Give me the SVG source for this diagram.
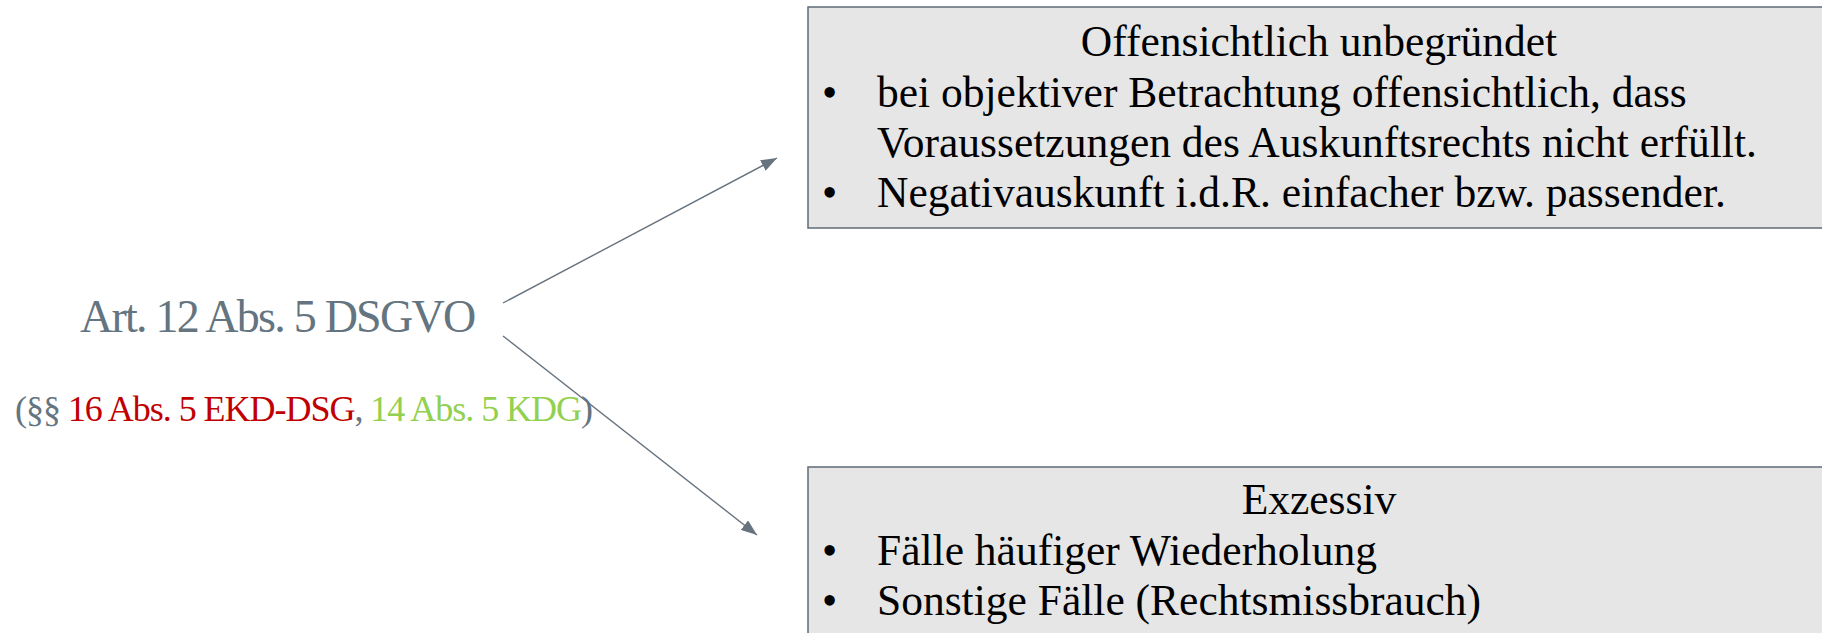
<svg xmlns="http://www.w3.org/2000/svg" width="1822" height="633" viewBox="0 0 1822 633">
<style>
.box{fill:#E7E6E6;stroke:#5F6B75;stroke-width:1.5}
.bt{font-family:"Liberation Serif","Times New Roman",serif;font-size:43.5px;fill:#000}
.ctr{text-anchor:middle}
.lt{font-family:"Liberation Serif","Times New Roman",serif;fill:#647480}
.conn{stroke:#67737E;stroke-width:1.4;fill:none;marker-end:url(#ah)}
</style>
<defs>
<marker id="ah" markerUnits="userSpaceOnUse" markerWidth="16" markerHeight="12" refX="16" refY="6" orient="auto" viewBox="0 0 16 12">
<path d="M0,0 L16,6 L0,12 z" fill="#67737E"/>
</marker>
</defs>
<rect width="1822" height="633" fill="#fff"/>
<g id="source">
<text class="lt" x="80" y="332" font-size="46" letter-spacing="-1.75">Art. 12 Abs. 5 DSGVO</text>
<text class="lt" x="15" y="421" font-size="36" letter-spacing="-1.03">(§§ <tspan fill="#C00000">16 Abs. 5 EKD-DSG</tspan>, <tspan fill="#92D050">14 Abs. 5 KDG</tspan>)</text>
</g>
<g id="connectors">
<line class="conn" x1="503" y1="303" x2="777" y2="158"/>
<line class="conn" x1="503" y1="336" x2="757" y2="535"/>
</g>
<g id="offensichtlich">
<rect class="box" x="808" y="7" width="1020" height="221"/>
<text class="bt ctr" x="1319" y="56">Offensichtlich unbegründet</text>
<text class="bt" x="822" y="107">•</text>
<text class="bt" x="877" y="107">bei objektiver Betrachtung offensichtlich, dass</text>
<text class="bt" x="877" y="157">Voraussetzungen des Auskunftsrechts nicht erfüllt.</text>
<text class="bt" x="822" y="207">•</text>
<text class="bt" x="877" y="207">Negativauskunft i.d.R. einfacher bzw. passender.</text>
</g>
<g id="exzessiv">
<rect class="box" x="808" y="467" width="1020" height="175"/>
<text class="bt ctr" x="1319" y="514">Exzessiv</text>
<text class="bt" x="822" y="565">•</text>
<text class="bt" x="877" y="565">Fälle häufiger Wiederholung</text>
<text class="bt" x="822" y="615">•</text>
<text class="bt" x="877" y="615">Sonstige Fälle (Rechtsmissbrauch)</text>
</g>
</svg>
